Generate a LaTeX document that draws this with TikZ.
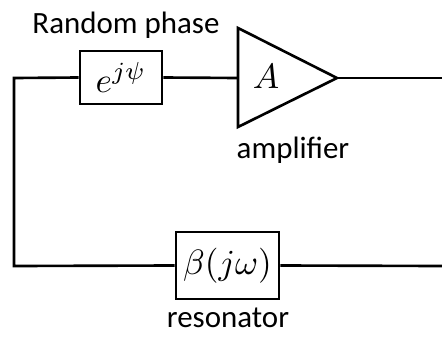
\documentclass[tikz,border=0pt]{standalone}
\usepackage{fontspec}
\setmainfont{Carlito}
\usepackage{amsmath}
\usetikzlibrary{calc}

\tikzset{
  block/.style={draw,line width=0.75pt,inner sep=0pt},
  wire/.style={line width=0.75pt},
  lbl/.style={font=\fontsize{8.8}{10}\selectfont,inner sep=0pt}
}

\begin{document}
\begin{tikzpicture}[x=0.01cm,y=-0.01cm]
    \useasboundingbox (0,0) rectangle (442,336);

    \node[block,minimum width=0.82cm,minimum height=0.53cm,font=\fontsize{9.7}{11}\selectfont] (phase) at (121,77.5) {$e^{j\psi}$};
    \node[block,minimum width=1.03cm,minimum height=0.67cm,font=\fontsize{9.7}{11}\selectfont] (beta) at (227.5,265.5) {$\beta(j\omega)$};

    \coordinate (amptop) at (238,28);
    \coordinate (ampbot) at (238,127);
    \coordinate (ampin) at (238,78);
    \coordinate (ampout) at (337,78);
    \draw[block,line join=miter] (amptop) -- (ampout) -- (ampbot) -- cycle;
    \node[font=\fontsize{9.7}{11}\selectfont] (gain) at (266,76) {$A$};

    \coordinate (topleft) at (14,78);
    \coordinate (topright) at (442,78);
    \coordinate (botleft) at (14,266);
    \coordinate (botright) at (442,266);

    \draw[wire] (phase.west) -- (topleft) -- (botleft) -- (beta.west);
    \draw[wire] (phase.east) -- (ampin);
    \draw[wire] (ampout) -- (topright);
    \draw[wire] (beta.east) -- (botright);

    \node[lbl] (phaselbl) at (126,25) {Random phase};
    \node[lbl] (amplbl) at (293,150) {amplifier};
    \node[lbl] (reslbl) at (228,318) {resonator};
\end{tikzpicture}
\end{document}
